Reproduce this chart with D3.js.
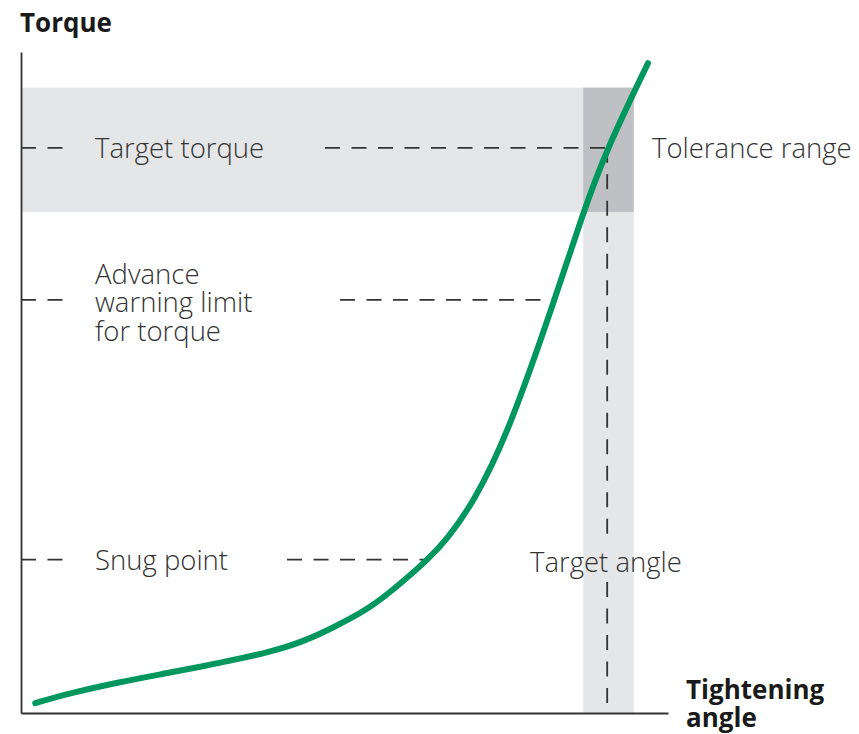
<!DOCTYPE html>
<html>
<head>
<meta charset="utf-8">
<script src="https://cdn.jsdelivr.net/npm/d3@7"></script>
<style>
  html, body { margin: 0; padding: 0; background: #fff; }
  svg { display: block; }
  .lbl { font-family: "Open Sans", sans-serif; font-weight: 300; font-size: 27.5px; fill: #333; }
  .ttl { font-family: "Open Sans", sans-serif; font-weight: 700; font-size: 26px; fill: #1a1a1a; }
</style>
</head>
<body>
<svg id="chart" width="859" height="734"></svg>
<script>
// Tightening curve: torque against angle (both in % of axis range)
const curveAngle  = [2.2, 7.6, 15.3, 23.0, 30.8, 38.5, 43.9, 48.2, 53.5, 57.5, 62.9, 65.8, 69.9, 75.1, 82.5, 86.9, 90.6, 96.9];
const curveTorque = [1.5, 3.0, 4.7, 6.1, 7.6, 9.2, 10.9, 12.9, 15.6, 18.6, 23.2, 26.2, 31.8, 41.8, 62.5, 75.8, 85.5, 98.3];

// Torque reference levels and their labels
const levelTorque = [85.5, 62.5, 23.2];
const levelLabels = [["Target torque"], ["Advance", "warning limit", "for torque"], ["Snug point"]];

// Tolerance window
const torqueTolerance = [75.8, 94.6];
const angleTolerance  = [86.9, 94.7];
const targetAngle = 90.6;

const axisTitles = { y: ["Torque"], x: ["Tightening", "angle"] };
const toleranceLabel = "Tolerance range";
const targetAngleLabel = "Target angle";

const svg = d3.select("#chart");
const x = d3.scaleLinear().domain([0, 100]).range([21, 668]);
const y = d3.scaleLinear().domain([0, 100]).range([713, 52]);

const light = "#e5e6e8", dark = "#bfc0c3", ink = "#333", green = "#00975f";

// Tolerance bands
svg.append("rect")
  .attr("x", x(0)).attr("width", x(angleTolerance[1]) - x(0))
  .attr("y", y(torqueTolerance[1])).attr("height", y(torqueTolerance[0]) - y(torqueTolerance[1]))
  .attr("fill", light);
svg.append("rect")
  .attr("x", x(angleTolerance[0])).attr("width", x(angleTolerance[1]) - x(angleTolerance[0]))
  .attr("y", y(torqueTolerance[1])).attr("height", y(0) - y(torqueTolerance[1]))
  .attr("fill", light);
svg.append("rect")
  .attr("x", x(angleTolerance[0])).attr("width", x(angleTolerance[1]) - x(angleTolerance[0]))
  .attr("y", y(torqueTolerance[1])).attr("height", y(torqueTolerance[0]) - y(torqueTolerance[1]))
  .attr("fill", dark);

// Axes (plain lines, no ticks)
svg.append("g").attr("transform", `translate(${x(0)},0)`)
  .call(d3.axisLeft(y).tickValues([]).tickSizeOuter(0))
  .select(".domain").attr("stroke", ink).attr("stroke-width", 1.8);
svg.append("g").attr("transform", `translate(0,${y(0)})`)
  .call(d3.axisBottom(x).tickValues([]).tickSizeOuter(0))
  .select(".domain").attr("stroke", ink).attr("stroke-width", 1.8);

// Dashed reference lines
const dash = "15 11.5";
const curveAt = t => {
  // angle at which the curve reaches torque t (linear between samples)
  for (let i = 1; i < curveTorque.length; i++) {
    if (curveTorque[i] >= t) {
      const f = (t - curveTorque[i - 1]) / (curveTorque[i] - curveTorque[i - 1]);
      return curveAngle[i - 1] + f * (curveAngle[i] - curveAngle[i - 1]);
    }
  }
  return curveAngle[curveAngle.length - 1];
};
const rightStart = [325, 340, 287];
levelTorque.forEach((t, i) => {
  const yy = y(t);
  svg.append("line").attr("x1", x(0)).attr("x2", 65).attr("y1", yy).attr("y2", yy)
    .attr("stroke", ink).attr("stroke-width", 1.8).attr("stroke-dasharray", dash);
  svg.append("line").attr("x1", rightStart[i]).attr("x2", x(curveAt(t))).attr("y1", yy).attr("y2", yy)
    .attr("stroke", ink).attr("stroke-width", 1.8).attr("stroke-dasharray", dash);
  const lines = levelLabels[i];
  const txt = svg.append("text").attr("class", "lbl");
  lines.forEach((s, k) => {
    txt.append("tspan").attr("x", 95).attr("y", (lines.length > 1 ? yy - 16 : yy + 10) + k * 28.5).text(s);
  });
});

// Target angle vertical dashed line, interrupted by its label
const labelY = 572;
[[y(levelTorque[0]), labelY - 32], [labelY + 10, y(0)]].forEach(([a, b]) => {
  svg.append("line").attr("x1", x(targetAngle)).attr("x2", x(targetAngle))
    .attr("y1", a).attr("y2", b)
    .attr("stroke", ink).attr("stroke-width", 1.8).attr("stroke-dasharray", dash);
});

// Tightening curve (B-spline smoothing through the sampled points)
const line = d3.line().x(d => x(d[0])).y(d => y(d[1])).curve(d3.curveBasis);
svg.append("path").datum(curveAngle.map((a, i) => [a, curveTorque[i]]))
  .attr("d", line).attr("fill", "none").attr("stroke", green)
  .attr("stroke-width", 6).attr("stroke-linecap", "round").attr("stroke-linejoin", "round");

// Other labels
svg.append("text").attr("class", "lbl").attr("x", 652).attr("y", y(levelTorque[0]) + 10).text(toleranceLabel);
svg.append("text").attr("class", "lbl").attr("x", 530).attr("y", labelY).text(targetAngleLabel);

svg.append("text").attr("class", "ttl").attr("x", 20).attr("y", 32).text(axisTitles.y[0]);
const xt = svg.append("text").attr("class", "ttl");
axisTitles.x.forEach((s, k) => xt.append("tspan").attr("x", 686).attr("y", 699 + k * 28).text(s));
</script>
</body>
</html>
